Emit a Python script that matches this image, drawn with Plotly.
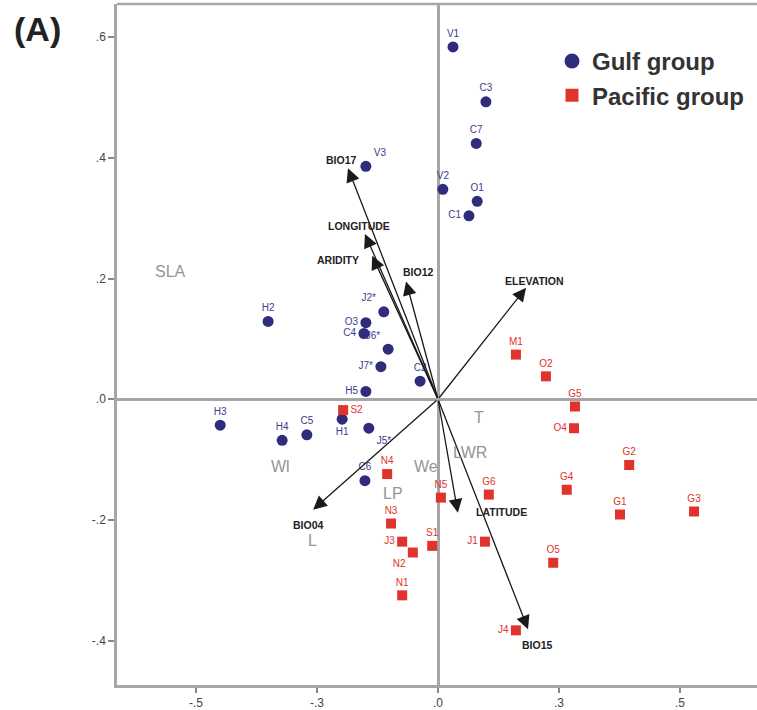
import plotly.graph_objects as go

# ---------------- data ----------------
gulf_names = ["V1", "C3", "C7", "V3", "V2", "O1", "C1", "H2", "J2*", "O3", "C4", "J6*",
              "J7*", "C2", "H5", "H3", "H4", "C5", "H1", "J5*", "C6"]
gulf_x = [0.031, 0.099, 0.079, -0.149, 0.010, 0.081, 0.064, -0.351, -0.112, -0.149, -0.153, -0.103,
          -0.118, -0.037, -0.149, -0.450, -0.322, -0.271, -0.198, -0.143, -0.151]
gulf_y = [0.584, 0.493, 0.424, 0.386, 0.348, 0.328, 0.304, 0.129, 0.145, 0.127, 0.109, 0.083,
          0.054, 0.030, 0.013, -0.043, -0.068, -0.059, -0.033, -0.048, -0.135]

pac_names = ["S2", "M1", "O2", "G5", "O4", "G2", "G4", "G1", "G3", "G6", "N4", "N5",
             "N3", "J3", "S1", "N2", "J1", "O5", "N1", "J4"]
pac_x = [-0.196, 0.161, 0.223, 0.283, 0.281, 0.395, 0.266, 0.376, 0.529, 0.105, -0.105, 0.006,
         -0.097, -0.074, -0.012, -0.052, 0.097, 0.238, -0.074, 0.161]
pac_y = [-0.018, 0.074, 0.038, -0.012, -0.048, -0.109, -0.150, -0.191, -0.186, -0.158, -0.124, -0.163,
         -0.206, -0.236, -0.243, -0.254, -0.236, -0.271, -0.325, -0.383]

vec_names = ["BIO17", "LONGITUDE", "ARIDITY", "BIO12", "ELEVATION", "LATITUDE", "BIO15", "BIO04"]
vec_x = [-0.186, -0.151, -0.136, -0.066, 0.182, 0.041, 0.186, -0.258]
vec_y = [0.383, 0.274, 0.238, 0.195, 0.185, -0.188, -0.381, -0.183]

trait_names = ["SLA", "Wl", "We", "LWR", "T", "LP", "L"]
trait_x = [-0.552, -0.326, -0.025, 0.066, 0.085, -0.093, -0.260]
trait_y = [0.211, -0.111, -0.111, -0.089, -0.031, -0.157, -0.234]

x_ticks = [-0.5, -0.25, 0.0, 0.25, 0.5]
x_ticktext = ["-.5", "-.3", ".0", ".3", ".5"]
y_ticks = [-0.4, -0.2, 0.0, 0.2, 0.4, 0.6]
y_ticktext = ["-.4", "-.2", ".0", ".2", ".4", ".6"]

# ---------------- styles ----------------
BLUE = "#2f2c7c"
BLUE_TXT = "#3d3a8c"
RED = "#e0332b"
RED_TXT = "#e0332b"
GRAY_LINE = "#a6a6a6"
TRAIT_GRAY = "#959595"
FONT = "Liberation Sans, Arial, sans-serif"

gulf_pos = {"V1": "top center", "C3": "top center", "C7": "top center", "V3": "top right",
            "V2": "top center", "O1": "top center", "C1": "middle left", "H2": "top center",
            "J2*": "top left", "O3": "middle left", "C4": "middle left", "J6*": "top left",
            "J7*": "middle left", "C2": "top center", "H5": "middle left", "H3": "top center",
            "H4": "top center", "C5": "top center", "H1": "bottom center", "J5*": "bottom right",
            "C6": "top center"}
pac_pos = {"S2": "middle right", "M1": "top center", "O2": "top center", "G5": "top center",
           "O4": "middle left", "G2": "top center", "G4": "top center", "G1": "top center",
           "G3": "top center", "G6": "top center", "N4": "top center", "N5": "top center",
           "N3": "top center", "J3": "middle left", "S1": "top center", "N2": "bottom left",
           "J1": "middle left", "O5": "top center", "N1": "top center", "J4": "middle left"}

# label offsets (pixels) for vector labels relative to arrow tips
vec_label_shift = {"BIO17": (-6, 8), "LONGITUDE": (-6, 8), "ARIDITY": (-34, -4),
                   "BIO12": (12, 10), "ELEVATION": (8, 7), "LATITUDE": (44, 1),
                   "BIO15": (9, -16), "BIO04": (-5, -15)}

L_M, R_M, T_M, B_M = 117, 0, 4, 22
W, H = 757, 710
pw, ph = W - L_M - R_M, H - T_M - B_M

fig = go.Figure()

fig.add_trace(go.Scatter(
    x=gulf_x, y=gulf_y, mode="markers+text", text=gulf_names,
    textposition=[gulf_pos[n] for n in gulf_names],
    textfont=dict(size=10, color=BLUE_TXT, family=FONT),
    marker=dict(symbol="circle", size=11, color=BLUE),
    showlegend=False, cliponaxis=False))

fig.add_trace(go.Scatter(
    x=pac_x, y=pac_y, mode="markers+text", text=pac_names,
    textposition=[pac_pos[n] for n in pac_names],
    textfont=dict(size=10, color=RED_TXT, family=FONT),
    marker=dict(symbol="square", size=10, color=RED),
    showlegend=False, cliponaxis=False))

# legend entries
fig.add_trace(go.Scatter(x=[None], y=[None], mode="markers", name="<b>Gulf group</b>",
                         marker=dict(symbol="circle", size=15, color=BLUE)))
fig.add_trace(go.Scatter(x=[None], y=[None], mode="markers", name="<b>Pacific group</b>",
                         marker=dict(symbol="square", size=13, color=RED)))

annotations = []
for n, vx, vy in zip(vec_names, vec_x, vec_y):
    annotations.append(dict(x=vx, y=vy, ax=0, ay=0, xref="x", yref="y", axref="x", ayref="y",
                            showarrow=True, arrowhead=2, arrowsize=2.1, arrowwidth=1.3,
                            arrowcolor="#1a1a1a", text=""))
    dx, dy = vec_label_shift[n]
    annotations.append(dict(x=vx, y=vy, xref="x", yref="y", text="<b>" + n + "</b>",
                            showarrow=False, xshift=dx, yshift=dy,
                            font=dict(size=10.5, color="#222222", family=FONT)))

for n, tx, ty in zip(trait_names, trait_x, trait_y):
    annotations.append(dict(x=tx, y=ty, xref="x", yref="y", text=n, showarrow=False,
                            font=dict(size=16, color=TRAIT_GRAY, family=FONT)))

annotations.append(dict(x=(37 - L_M) / pw, y=(H - B_M - 29) / ph, xref="paper", yref="paper",
                        text="<b>(A)</b>", showarrow=False, xanchor="center", yanchor="middle",
                        font=dict(size=34, color="#222222", family=FONT)))

fig.update_layout(
    width=W, height=H,
    margin=dict(l=L_M, r=R_M, t=T_M, b=B_M),
    paper_bgcolor="white", plot_bgcolor="white",
    font=dict(family=FONT),
    annotations=annotations,
    showlegend=True,
    legend=dict(x=(552 - L_M) / pw, y=1 - (39 - T_M) / ph, xanchor="left", yanchor="top",
                font=dict(size=24, color="#333333", family=FONT),
                bgcolor="rgba(0,0,0,0)", tracegroupgap=0, itemsizing="trace"),
    xaxis=dict(range=[(L_M - 438) / 484, (W - 438) / 484], tickvals=x_ticks, ticktext=x_ticktext,
               showgrid=False, zeroline=True, zerolinecolor=GRAY_LINE, zerolinewidth=2.5,
               showline=True, linecolor=GRAY_LINE, linewidth=2.5,
               ticks="outside", ticklen=5, tickcolor="#888888", tickwidth=1.5,
               tickfont=dict(size=12, color="#444444", family=FONT)),
    yaxis=dict(range=[(401 - (H - B_M)) / 606, (401 - T_M) / 606], tickvals=y_ticks, ticktext=y_ticktext,
               showgrid=False, zeroline=True, zerolinecolor=GRAY_LINE, zerolinewidth=2.5,
               showline=True, linecolor=GRAY_LINE, linewidth=2.5,
               ticks="outside", ticklen=6, tickcolor="#888888", tickwidth=1.5,
               tickfont=dict(size=12, color="#444444", family=FONT)),
    shapes=[dict(type="line", xref="paper", yref="paper", x0=0, x1=1, y0=1, y1=1,
                 line=dict(color=GRAY_LINE, width=2.5))],
)

fig.write_html("out.html")
